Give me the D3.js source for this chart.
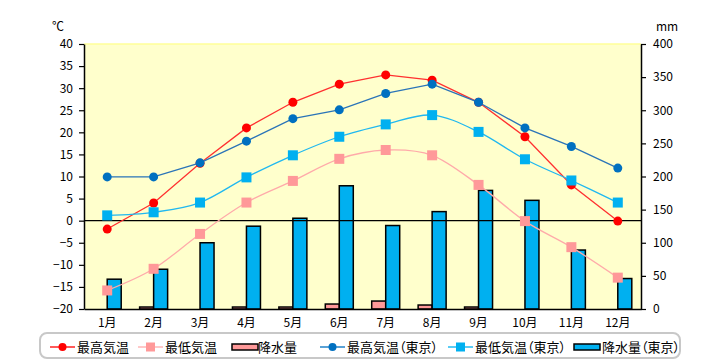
<!DOCTYPE html>
<html><head><meta charset="utf-8">
<script src="https://cdn.jsdelivr.net/npm/d3@7"></script>
<style>
body{margin:0;background:#fff;}
text{font-family:"Noto Sans CJK JP","Noto Sans",sans-serif;}
.leg{font-feature-settings:"palt";}
</style></head>
<body><div id="chart"></div>
<script>
const months = ["1月","2月","3月","4月","5月","6月","7月","8月","9月","10月","11月","12月"];
const maxTemp = [-1.9, 4.0, 13.0, 21.0, 26.8, 30.9, 33.0, 31.8, 26.8, 19.0, 8.1, -0.1];
const minTemp = [-15.8, -10.9, -3.0, 4.1, 9.0, 14.0, 16.0, 14.8, 8.1, -0.1, -6.0, -12.9];
const precip = [0, 3, 0, 3, 3, 7.5, 12, 6, 3, 0, 0, 0];
const tokyoMax = [9.9, 9.9, 13.1, 18.0, 23.1, 25.1, 28.8, 30.9, 26.8, 21.0, 16.8, 11.9];
const tokyoMin = [1.2, 1.9, 4.1, 9.8, 14.8, 19.0, 21.8, 23.9, 20.1, 13.9, 9.1, 4.1];
const tokyoPrecip = [45, 60, 100, 125, 137, 186, 126, 147, 179, 164, 89, 46];
const tempTicks = [-20,-15,-10,-5,0,5,10,15,20,25,30,35,40];
const mmTicks = [0,50,100,150,200,250,300,350,400];
const legendNames = ["最高気温","最低気温","降水量","最高気温（東京）","最低気温（東京）","降水量（東京）"];

const W = 720, H = 360;
const L = 84, R = 641, T = 44, B = 309;
const svg = d3.select("#chart").append("svg").attr("width", W).attr("height", H);

const x = d3.scaleBand().domain(months).range([L, R]);
const yT = d3.scaleLinear().domain([-20, 40]).range([B, T]);
const yP = d3.scaleLinear().domain([0, 400]).range([B, T]);

// plot background
svg.append("rect").attr("x", L).attr("y", T).attr("width", R - L).attr("height", B - T)
  .attr("fill", "#ffffcc");
svg.append("line").attr("x1", L).attr("x2", R).attr("y1", T).attr("y2", T)
  .attr("stroke", "#ffff99").attr("stroke-width", 1.5);

// bars
const bw = 14;
const cx = d => x(d) + x.bandwidth() / 2;
svg.append("g").selectAll("rect").data(months).join("rect")
  .attr("x", d => cx(d) - bw).attr("width", bw)
  .attr("y", (d, i) => yP(precip[i])).attr("height", (d, i) => yP(0) - yP(precip[i]))
  .attr("fill", "#ff9999").attr("stroke", "#000").attr("stroke-width", 1.5);
svg.append("g").selectAll("rect").data(months).join("rect")
  .attr("x", d => cx(d)).attr("width", bw)
  .attr("y", (d, i) => yP(tokyoPrecip[i])).attr("height", (d, i) => yP(0) - yP(tokyoPrecip[i]))
  .attr("fill", "#00b0f0").attr("stroke", "#000").attr("stroke-width", 1.5);

// zero line
svg.append("line").attr("x1", L).attr("x2", R).attr("y1", yT(0)).attr("y2", yT(0))
  .attr("stroke", "#000").attr("stroke-width", 1.2);

// axes
const axL = svg.append("g").attr("transform", `translate(${L},0)`)
  .call(d3.axisLeft(yT).tickValues(tempTicks).tickSize(5).tickPadding(6).tickSizeOuter(0));
const axR = svg.append("g").attr("transform", `translate(${R},0)`)
  .call(d3.axisRight(yP).tickValues(mmTicks).tickSize(5).tickPadding(7).tickSizeOuter(0));
const axB = svg.append("g").attr("transform", `translate(0,${B})`)
  .call(d3.axisBottom(x).tickSize(0).tickPadding(9));
[axL, axR, axB].forEach(a => {
  a.selectAll("path").attr("stroke", "#000").attr("stroke-width", 1.5);
  a.selectAll("line").attr("stroke", "#000").attr("stroke-width", 1.2);
  a.selectAll("text").attr("font-size", 12).attr("fill", "#000")
   .attr("font-family", "'Noto Sans CJK JP',sans-serif");
});

svg.append("text").attr("x", 58).attr("y", 31).attr("text-anchor", "middle")
  .attr("font-size", 12).text("℃");
svg.append("text").attr("x", 667).attr("y", 31).attr("text-anchor", "middle")
  .attr("font-size", 12).text("mm");

// lines
function drawSeries(vals, color, lineColor, curve, shape, size) {
  const line = d3.line().x((d, i) => cx(months[i])).y(d => yT(d)).curve(curve);
  svg.append("path").datum(vals).attr("d", line).attr("fill", "none")
    .attr("stroke", lineColor).attr("stroke-width", 1.3);
  const g = svg.append("g");
  if (shape === "circle") {
    g.selectAll("circle").data(vals).join("circle")
      .attr("cx", (d, i) => cx(months[i])).attr("cy", d => yT(d)).attr("r", size)
      .attr("fill", color);
  } else {
    g.selectAll("rect").data(vals).join("rect")
      .attr("x", (d, i) => cx(months[i]) - size).attr("y", d => yT(d) - size)
      .attr("width", size * 2).attr("height", size * 2).attr("fill", color);
  }
}
drawSeries(maxTemp, "#ff0000", "#ff3030", d3.curveLinear, "circle", 4.5);
drawSeries(minTemp, "#ff9999", "#ffaaaa", d3.curveCardinal.tension(0), "square", 5);
drawSeries(tokyoMax, "#0070c0", "#2a74b8", d3.curveLinear, "circle", 4.5);
drawSeries(tokyoMin, "#00b0f0", "#20b8f0", d3.curveCardinal.tension(0), "square", 5);

// legend
svg.append("rect").attr("x", 40).attr("y", 333).attr("width", 640).attr("height", 25)
  .attr("rx", 7).attr("fill", "#fff").attr("stroke", "#c8c8c8").attr("stroke-width", 2);
const ly = 347;
const leg = [
  {x: 50, type: "circle", c: "#ff0000", lc: "#ff0000", tx: 77},
  {x: 138, type: "square", c: "#ff9999", lc: "#ffaaaa", tx: 165},
  {x: 232, type: "bar", c: "#ff9999", tx: 258},
  {x: 320, type: "circle", c: "#0070c0", lc: "#0070c0", tx: 347},
  {x: 448, type: "square", c: "#00b0f0", lc: "#00b0f0", tx: 475},
  {x: 574, type: "bar", c: "#00b0f0", tx: 602}
];
leg.forEach((l, i) => {
  if (l.type === "bar") {
    svg.append("rect").attr("x", l.x).attr("y", ly - 3).attr("width", 26).attr("height", 6)
      .attr("fill", l.c).attr("stroke", "#000").attr("stroke-width", 1.5);
  } else {
    svg.append("line").attr("x1", l.x).attr("x2", l.x + 25).attr("y1", ly).attr("y2", ly)
      .attr("stroke", l.lc).attr("stroke-width", 1.3);
    if (l.type === "circle") {
      svg.append("circle").attr("cx", l.x + 12.5).attr("cy", ly).attr("r", 4).attr("fill", l.c);
    } else {
      svg.append("rect").attr("x", l.x + 8).attr("y", ly - 4.5).attr("width", 9).attr("height", 9).attr("fill", l.c);
    }
  }
  svg.append("text").attr("class", "leg").attr("x", l.tx).attr("y", ly).attr("dy", "0.35em")
    .attr("font-size", 13).attr("fill", "#000").text(legendNames[i]);
});
</script>
</body></html>
